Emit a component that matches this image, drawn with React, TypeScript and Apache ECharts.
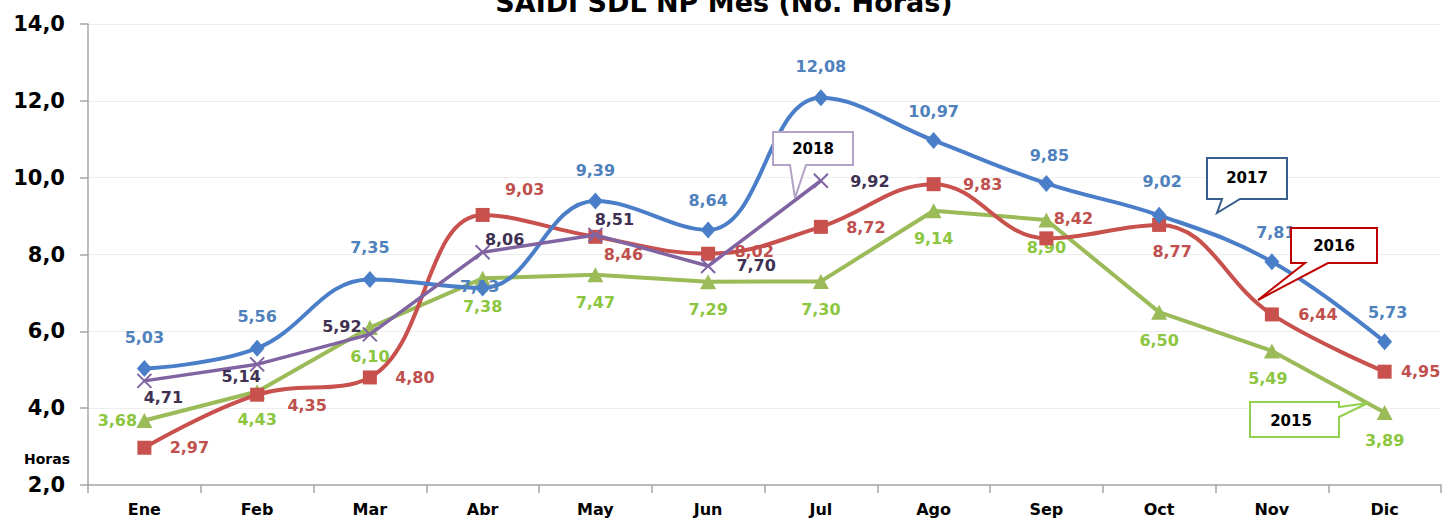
import React, { useEffect, useRef } from "react";
import * as echarts from "echarts";

const months = ["Ene", "Feb", "Mar", "Abr", "May", "Jun", "Jul", "Ago", "Sep", "Oct", "Nov", "Dic"];
const s2015 = [3.68, 4.43, 6.1, 7.38, 7.47, 7.29, 7.3, 9.14, 8.9, 6.5, 5.49, 3.89];
const s2016 = [2.97, 4.35, 4.8, 9.03, 8.46, 8.02, 8.72, 9.83, 8.42, 8.77, 6.44, 4.95];
const s2017 = [5.03, 5.56, 7.35, 7.13, 9.39, 8.64, 12.08, 10.97, 9.85, 9.02, 7.81, 5.73];
const s2018 = [4.71, 5.14, 5.92, 8.06, 8.51, 7.7, 9.92];
const yMin = 2;
const yMax = 14;
const yStep = 2;
const titleText = "SAIDI SDL NP Mes (No. Horas)";
const yName = "Horas";

// label placement (offset from marker centre, px)
const off2015 = [[-27, 0], [0, 28], [0, 29], [0, 28], [0, 28], [0, 28], [0, 28], [0, 28], [0, 28], [0, 28], [-4, 28], [0, 28]];
const off2016 = [[45, 0], [50, 11], [45, 0], [42, -25], [28, 18], [46, -2], [45, 1], [49, 0], [27, -20], [13, 27], [46, 0], [36, 0]];
const off2017 = [[0, -31], [0, -32], [0, -32], [-3, -1], [0, -31], [0, -29], [0, -31], [0, -29], [3, -28], [3, -34], [4, -29], [3, -29]];
const off2018 = [[19, 17], [-16, 12], [-28, -8], [22, -13], [19, -15], [48, -1], [49, 1]];

const FONT = "'DejaVu Sans', Verdana, sans-serif";
const fmt = (v: number) => v.toFixed(2).replace(".", ",");

function mkData(vals: number[], offs: number[][]) {
  return vals.map((v, i) => ({ value: v, label: { offset: offs[i] } }));
}

function callout(points: number[][], color: string, text: string, tx: number, ty: number) {
  return [
    {
      type: "polygon",
      z: 100,
      shape: { points },
      style: { fill: "#ffffff", stroke: color, lineWidth: 2 },
    },
    {
      type: "text",
      z: 101,
      x: tx,
      y: ty,
      style: {
        text,
        fill: "#000000",
        font: `bold 15px ${FONT}`,
        align: "center",
        verticalAlign: "middle",
      },
    },
  ];
}

export default function App() {
  const ref = useRef<HTMLDivElement>(null);
  useEffect(() => {
    if (!ref.current) return;
    document.body.style.margin = "0";
    const chart = echarts.init(ref.current, undefined, { renderer: "svg" });
    const labelBase = (color: string) => ({
      show: true,
      position: "inside",
      color,
      fontFamily: FONT,
      fontWeight: "bold",
      fontSize: 16,
      formatter: (p: any) => fmt(p.value),
    });
    chart.setOption({
      animation: false,
      backgroundColor: "#ffffff",
      grid: { left: 88, right: 7, top: 24, bottom: 37 },
      xAxis: {
        type: "category",
        data: months,
        boundaryGap: true,
        axisLine: { lineStyle: { color: "#A6A6A6", width: 1.5 } },
        axisTick: { show: true, length: 8, lineStyle: { color: "#A6A6A6", width: 1.5 } },
        axisLabel: { color: "#000", fontFamily: FONT, fontWeight: "bold", fontSize: 16, margin: 16 },
        splitLine: { show: false },
      },
      yAxis: {
        type: "value",
        min: yMin,
        max: yMax,
        interval: yStep,
        axisLine: { show: true, lineStyle: { color: "#A6A6A6", width: 1.5 } },
        axisTick: { show: true, length: 8, lineStyle: { color: "#A6A6A6", width: 1.5 } },
        axisLabel: {
          color: "#000",
          fontFamily: FONT,
          fontWeight: "bold",
          fontSize: 21,
          margin: 23,
          formatter: (v: number) => v.toFixed(1).replace(".", ","),
        },
        splitLine: { show: true, lineStyle: { color: "#EDEDED", width: 1 } },
      },
      series: [
        {
          name: "2015",
          type: "line",
          data: mkData(s2015, off2015),
          symbol: "triangle",
          symbolSize: [16, 15],
          lineStyle: { color: "#9BBB59", width: 4 },
          itemStyle: { color: "#9BBB59" },
          label: labelBase("#8CC63F"),
          z: 2,
        },
        {
          name: "2016",
          type: "line",
          data: mkData(s2016, off2016),
          smooth: 0.4,
          symbol: "rect",
          symbolSize: 14,
          lineStyle: { color: "#C8504D", width: 4 },
          itemStyle: { color: "#C8504D" },
          label: labelBase("#C0504D"),
          z: 3,
        },
        {
          name: "2017",
          type: "line",
          data: mkData(s2017, off2017),
          smooth: 0.4,
          symbol: "diamond",
          symbolSize: [15, 17],
          lineStyle: { color: "#4A7EC8", width: 4 },
          itemStyle: { color: "#4A7EC8" },
          label: labelBase("#4F81BD"),
          z: 4,
        },
        {
          name: "2018",
          type: "line",
          data: mkData(s2018, off2018),
          symbol: "path://M0,0L10,10M10,0L0,10",
          symbolSize: 14,
          lineStyle: { color: "#8064A2", width: 3.5 },
          itemStyle: { color: "#8064A2", borderColor: "#8064A2", borderWidth: 2 },
          label: labelBase("#3F3151"),
          z: 5,
        },
      ],
      graphic: [
        {
          type: "text",
          z: 100,
          x: 724,
          y: 2,
          style: {
            text: titleText,
            fill: "#000",
            font: `bold 27px ${FONT}`,
            align: "center",
            verticalAlign: "middle",
          },
        },
        {
          type: "text",
          z: 100,
          x: 47,
          y: 459,
          style: {
            text: yName,
            fill: "#000",
            font: `bold 14px ${FONT}`,
            align: "center",
            verticalAlign: "middle",
          },
        },
        ...callout(
          [[773, 132], [853, 132], [853, 165], [806, 165], [795, 198], [790, 165], [773, 165]],
          "#B3A2C7",
          "2018",
          813,
          149
        ),
        ...callout(
          [[1207, 158], [1287, 158], [1287, 199], [1240, 199], [1217, 213], [1222, 199], [1207, 199]],
          "#385D8A",
          "2017",
          1247,
          178
        ),
        ...callout(
          [[1291, 228], [1377, 228], [1377, 263], [1328, 263], [1258, 300], [1305, 263], [1291, 263]],
          "#C00000",
          "2016",
          1334,
          246
        ),
        ...callout(
          [[1250, 402], [1339, 402], [1339, 407], [1368, 403], [1339, 417], [1339, 437], [1250, 437]],
          "#92D050",
          "2015",
          1291,
          421
        ),
      ],
    });
    return () => chart.dispose();
  }, []);
  return (
    <div
      ref={ref}
      style={{ position: "fixed", left: 0, top: 0, width: 1448, height: 522, background: "#fff" }}
    />
  );
}
